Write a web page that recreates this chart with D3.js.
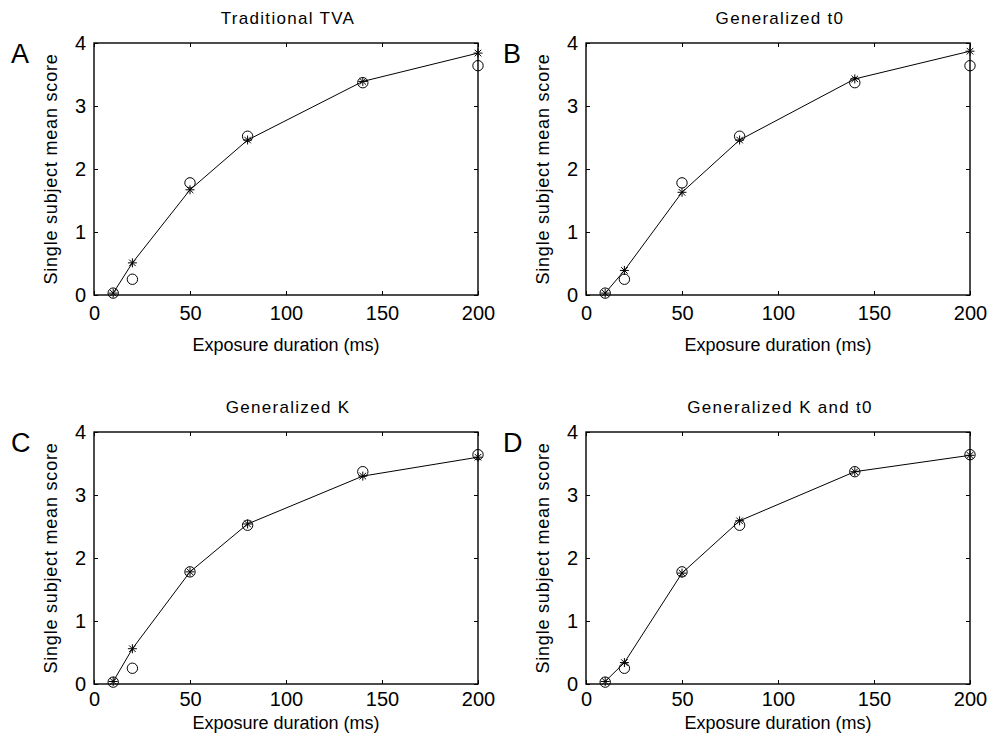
<!DOCTYPE html>
<html>
<head>
<meta charset="utf-8">
<script src="https://cdn.jsdelivr.net/npm/d3@7"></script>
<style>
  html, body { margin: 0; padding: 0; background: #fff; }
  svg { display: block; font-family: "Liberation Sans", Arial, Helvetica, sans-serif; }
</style>
</head>
<body>
<svg id="chart" width="990" height="739"></svg>
<script>
// ---- data ----
const durations = [10, 20, 50, 80, 140, 200];
const observedScores = [0.03, 0.25, 1.78, 2.52, 3.37, 3.64];
const predTraditionalTVA = [0.03, 0.51, 1.67, 2.46, 3.39, 3.84];
const predGeneralizedT0 = [0.03, 0.39, 1.63, 2.46, 3.43, 3.87];
const predGeneralizedK = [0.04, 0.56, 1.78, 2.54, 3.30, 3.60];
const predGeneralizedKT0 = [0.04, 0.34, 1.76, 2.59, 3.37, 3.63];
const panelTitles = ["Traditional TVA", "Generalized t0", "Generalized K", "Generalized K and t0"];
const panelLetters = ["A", "B", "C", "D"];
const xTickValues = [0, 50, 100, 150, 200];
const yTickValues = [0, 1, 2, 3, 4];
const xLabel = "Exposure duration (ms)";
const yLabel = "Single subject mean score";

const predictions = [predTraditionalTVA, predGeneralizedT0, predGeneralizedK, predGeneralizedKT0];

// ---- layout ----
const panelBoxes = [
  { left: 94, top: 43, xPad: 11, xLab: 56 },
  { left: 586, top: 43, xPad: 11, xLab: 56 },
  { left: 94, top: 432, xPad: 8, xLab: 45 },
  { left: 586, top: 432, xPad: 8, xLab: 45 }
];
const plotW = 384, plotH = 252;

const svg = d3.select("#chart");

panelBoxes.forEach((box, i) => {
  const g = svg.append("g").attr("transform", `translate(${box.left},${box.top})`);
  const x = d3.scaleLinear().domain([0, 200]).range([0, plotW]);
  const y = d3.scaleLinear().domain([0, 4]).range([plotH, 0]);
  const fmt = d3.format("d");

  const bottom = g.append("g").attr("transform", `translate(0,${plotH})`)
    .call(d3.axisBottom(x).tickValues(xTickValues).tickFormat(fmt).tickSizeInner(-4).tickSizeOuter(0).tickPadding(box.xPad));
  const left = g.append("g")
    .call(d3.axisLeft(y).tickValues(yTickValues).tickFormat(fmt).tickSizeInner(-4).tickSizeOuter(0).tickPadding(8));
  const top = g.append("g")
    .call(d3.axisTop(x).tickValues(xTickValues).tickSizeInner(-4).tickSizeOuter(0).tickFormat(""));
  const right = g.append("g").attr("transform", `translate(${plotW},0)`)
    .call(d3.axisRight(y).tickValues(yTickValues).tickSizeInner(-4).tickSizeOuter(0).tickFormat(""));

  [bottom, left, top, right].forEach(a => {
    a.select(".domain").remove();
    a.selectAll(".tick line").attr("stroke", "#000").attr("stroke-width", 1);
    a.selectAll(".tick text").attr("fill", "#000").style("font-size", "20px")
      .style("font-family", '"Liberation Sans", Arial, sans-serif');
  });

  // frame
  g.append("rect").attr("x", 0).attr("y", 0).attr("width", plotW).attr("height", plotH)
    .attr("fill", "none").attr("stroke", "#000").attr("stroke-width", 1.4);

  // prediction line
  const pred = predictions[i];
  const ptsPred = durations.map((d, k) => [d, pred[k]]);
  g.append("path").datum(ptsPred)
    .attr("fill", "none").attr("stroke", "#000").attr("stroke-width", 1)
    .attr("d", d3.line().x(d => x(d[0])).y(d => y(d[1])));

  // observed circles
  g.selectAll("circle.obs").data(durations.map((d, k) => [d, observedScores[k]]))
    .enter().append("circle").attr("class", "obs")
    .attr("cx", d => x(d[0])).attr("cy", d => y(d[1])).attr("r", 5.2)
    .attr("fill", "none").attr("stroke", "#000").attr("stroke-width", 1);

  // predicted asterisks
  const s = 4.5, sd = 3.3;
  const starPath = `M${-s},0L${s},0M0,${-s}L0,${s}M${-sd},${-sd}L${sd},${sd}M${-sd},${sd}L${sd},${-sd}`;
  g.selectAll("path.star").data(ptsPred).enter().append("path").attr("class", "star")
    .attr("transform", d => `translate(${x(d[0])},${y(d[1])})`)
    .attr("d", starPath).attr("fill", "none").attr("stroke", "#000").attr("stroke-width", 1);

  // title
  g.append("text").attr("x", plotW / 2 + 2).attr("y", -19)
    .attr("text-anchor", "middle").style("font-size", "17px").style("letter-spacing", "1.3px")
    .attr("fill", "#000").text(panelTitles[i]);

  // x label
  g.append("text").attr("x", plotW / 2).attr("y", plotH + box.xLab)
    .attr("text-anchor", "middle").style("font-size", "18px")
    .attr("fill", "#000").text(xLabel);

  // y label
  g.append("text").attr("transform", `translate(-37,${plotH / 2}) rotate(-90)`)
    .attr("text-anchor", "middle").style("font-size", "18px").style("letter-spacing", "0.8px")
    .attr("fill", "#000").text(yLabel);

  // panel letter
  g.append("text").attr("x", -83).attr("y", 20)
    .style("font-size", "27px").attr("fill", "#000").text(panelLetters[i]);
});
</script>
</body>
</html>
